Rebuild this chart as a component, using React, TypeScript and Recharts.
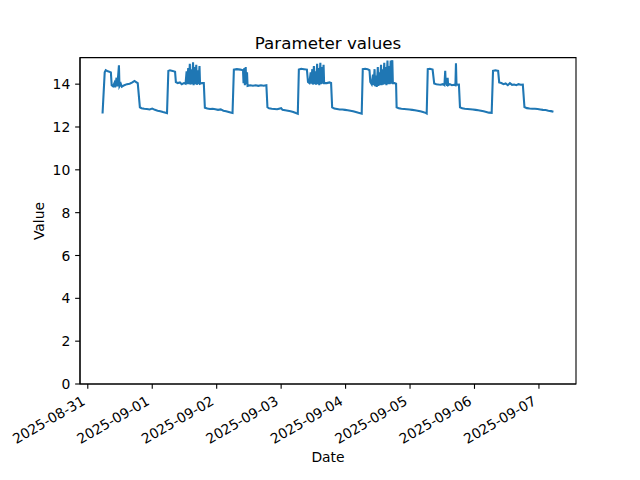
import React from "react";
import { LineChart, Line, XAxis, YAxis, ReferenceArea } from "recharts";

// readings: [hours since 2025-08-31 00:00, value]
const day0: [number, number][] = [
  [5.5, 12.63], [6.3, 14.55], [6.7, 14.65], [7.5, 14.6], [8.6, 14.55], [8.9, 13.95],
  [9.4, 13.9], [9.9, 14.05], [10.2, 13.85], [10.7, 14.3], [11.0, 13.9], [11.6, 14.88],
  [11.8, 13.9], [12.3, 14.02], [12.7, 13.88], [13.6, 13.95], [14.6, 14.0], [15.6, 14.02],
  [16.6, 14.08], [17.4, 14.15], [18.0, 14.1], [18.6, 14.05], [19.4, 12.92], [20.0, 12.88],
  [21.0, 12.85], [22.0, 12.84], [23.0, 12.82], [24.0, 12.86], [25.0, 12.8], [26.0, 12.76],
  [27.0, 12.74], [28.0, 12.7], [29.0, 12.67], [29.5, 12.65],
];
const day1: [number, number][] = [
  [30.0, 14.62], [30.6, 14.65], [31.6, 14.62], [32.5, 14.58], [32.8, 14.1], [33.5, 14.05],
  [34.3, 14.08], [35.0, 14.0], [35.8, 14.05], [36.4, 14.02], [36.8, 14.6], [37.0, 14.0],
  [37.4, 14.75], [37.6, 14.0], [38.0, 14.95], [38.2, 13.98], [38.6, 14.7], [38.8, 14.0],
  [39.2, 15.02], [39.4, 13.95], [39.8, 14.8], [40.0, 14.0], [40.4, 14.9], [40.6, 13.97],
  [41.0, 14.65], [41.2, 14.0], [41.6, 14.85], [41.8, 14.02], [42.5, 14.05], [43.2, 14.05],
  [43.6, 12.9], [44.5, 12.86], [45.5, 12.84], [46.5, 12.85], [47.5, 12.83], [48.5, 12.8],
  [49.5, 12.82], [50.5, 12.76], [51.5, 12.74], [52.5, 12.7], [53.5, 12.66], [53.9, 12.65],
];
const day2: [number, number][] = [
  [54.4, 14.68], [55.5, 14.7], [56.8, 14.68], [57.8, 14.65], [58.0, 14.05], [58.3, 14.75],
  [58.5, 13.95], [58.8, 14.8], [59.0, 14.0], [59.3, 14.55], [59.5, 13.92], [60.5, 13.95],
  [61.5, 13.93], [62.5, 13.95], [63.5, 13.92], [64.5, 13.95], [65.5, 13.93], [66.5, 13.95],
  [66.9, 12.92], [67.5, 12.87], [68.5, 12.85], [69.5, 12.84], [70.5, 12.83], [72.0, 12.88],
  [72.5, 12.8], [73.5, 12.78], [74.5, 12.76], [75.5, 12.74], [76.5, 12.7], [77.5, 12.65],
  [78.2, 12.62],
];
const day3: [number, number][] = [
  [78.6, 14.68], [79.5, 14.72], [80.5, 14.7], [81.6, 14.68], [82.0, 14.1], [82.5, 14.05],
  [83.0, 14.55], [83.2, 14.02], [83.6, 14.7], [83.8, 13.98], [84.2, 14.85], [84.4, 14.0],
  [84.8, 14.6], [85.0, 13.98], [85.4, 14.95], [85.6, 14.0], [86.0, 14.75], [86.2, 13.95],
  [86.6, 15.0], [86.8, 14.0], [87.2, 14.8], [87.4, 14.02], [87.8, 14.9], [88.0, 14.05],
  [89.0, 14.05], [90.0, 14.08], [90.6, 14.05], [91.0, 12.92], [91.8, 12.86], [92.8, 12.84],
  [93.8, 12.82], [94.8, 12.82], [95.8, 12.8], [96.8, 12.78], [97.8, 12.76], [98.8, 12.73],
  [99.8, 12.7], [100.8, 12.66], [102.0, 12.62],
];
const day4: [number, number][] = [
  [102.4, 14.7], [103.3, 14.72], [104.2, 14.7], [104.9, 14.65], [105.2, 14.1], [105.7, 14.0],
  [106.2, 14.45], [106.4, 13.95], [106.8, 14.7], [107.0, 13.9], [107.4, 14.4], [107.6, 13.87],
  [108.0, 14.8], [108.2, 13.92], [108.6, 14.55], [108.8, 13.95], [109.2, 14.9], [109.4, 13.95],
  [109.8, 14.7], [110.0, 13.98], [110.4, 15.0], [110.6, 14.0], [111.0, 14.8], [111.2, 13.95],
  [111.6, 15.1], [111.8, 14.0], [112.2, 14.85], [112.4, 14.0], [112.8, 15.1], [113.0, 14.02],
  [113.4, 15.12], [113.6, 14.05], [114.2, 14.05], [114.8, 14.02], [115.0, 12.92], [115.8, 12.87],
  [116.8, 12.85], [117.8, 12.84], [118.8, 12.83], [119.8, 12.82], [120.8, 12.8], [121.8, 12.78],
  [122.8, 12.76], [123.8, 12.73], [124.8, 12.7], [125.8, 12.66], [126.2, 12.63],
];
const day5: [number, number][] = [
  [126.6, 14.7], [127.4, 14.72], [128.4, 14.68], [129.0, 14.03], [129.8, 14.0], [130.6, 13.98],
  [131.4, 13.97], [132.2, 14.0], [132.8, 13.95], [133.1, 14.62], [133.3, 13.98], [133.6, 14.2],
  [133.8, 13.92], [134.0, 14.3], [134.2, 13.95], [134.8, 14.0], [135.6, 13.95], [136.4, 13.97],
  [136.9, 13.95], [137.1, 14.98], [137.3, 13.97], [138.2, 13.98], [138.6, 12.92], [139.4, 12.87],
  [140.4, 12.85], [141.4, 12.84], [142.4, 12.83], [143.4, 12.82], [144.4, 12.8], [145.4, 12.78],
  [146.4, 12.76], [147.4, 12.73], [148.4, 12.7], [149.4, 12.67], [150.4, 12.66],
];
const day6: [number, number][] = [
  [150.9, 14.62], [151.8, 14.65], [152.8, 14.62], [153.2, 14.08], [154.0, 14.05], [154.8, 14.0],
  [155.6, 14.03], [156.4, 13.95], [157.2, 14.05], [158.0, 13.97], [158.8, 13.98], [159.6, 13.95],
  [160.4, 14.0], [161.2, 13.97], [162.0, 13.98], [162.6, 12.93], [163.5, 12.88], [164.5, 12.86],
  [165.5, 12.85], [166.5, 12.85], [167.5, 12.84], [168.5, 12.82], [169.5, 12.8], [170.5, 12.79],
  [171.5, 12.76], [172.5, 12.74], [173.4, 12.71],
];

const tickHours = [0, 24, 48, 72, 96, 120, 144, 168];
const tickLabels = [
  "2025-08-31", "2025-09-01", "2025-09-02", "2025-09-03",
  "2025-09-04", "2025-09-05", "2025-09-06", "2025-09-07",
];
const yTicks = [0, 2, 4, 6, 8, 10, 12, 14];

const allReadings = [...day0, ...day1, ...day2, ...day3, ...day4, ...day5, ...day6];
const data = allReadings.map(([t, v]) => ({ t, v }));

const FONT = "DejaVu Sans, sans-serif";
const TICK_PX = 4.86;

const XTick = (props: any) => {
  const { x, y, payload } = props;
  const idx = tickHours.indexOf(payload.value);
  const label = idx >= 0 ? tickLabels[idx] : "";
  const px = x - 7;
  const py = y + 1;
  return (
    <text
      x={px}
      y={py}
      transform={`rotate(-30, ${px}, ${py})`}
      textAnchor="end"
      dy="0.76em"
      fontSize={13.9}
      fontFamily={FONT}
      fill="#000"
    >
      {label}
    </text>
  );
};

const YTick = (props: any) => {
  const { x, y, payload } = props;
  return (
    <text x={x} y={y} dy="0.36em" textAnchor="end" fontSize={13.9} fontFamily={FONT} fill="#000">
      {payload.value}
    </text>
  );
};

const xDomain: [number, number] = [-2.9, 181.8];
const yDomain: [number, number] = [0, 15.24];

export default function App() {
  return (
    <div style={{ position: "absolute", left: 0, top: 0, width: 640, height: 480, background: "#fff" }}>
      <LineChart
        width={640}
        height={480}
        data={data}
        margin={{ top: 57.6, right: 64, bottom: 36, left: 20 }}
      >
        <XAxis
          dataKey="t"
          type="number"
          domain={xDomain}
          ticks={tickHours}
          interval={0}
          allowDataOverflow
          height={60}
          tickSize={TICK_PX}
          tickMargin={TICK_PX}
          tick={<XTick />}
          stroke="#000"
          axisLine={{ stroke: "#000", strokeWidth: 1.1 }}
          tickLine={{ stroke: "#000", strokeWidth: 1.1 }}
        />
        <YAxis
          type="number"
          domain={yDomain}
          ticks={yTicks}
          interval={0}
          allowDataOverflow
          width={60}
          tickSize={TICK_PX}
          tickMargin={TICK_PX}
          tick={<YTick />}
          axisLine={{ stroke: "#000", strokeWidth: 1.1 }}
          tickLine={{ stroke: "#000", strokeWidth: 1.1 }}
        />
        <ReferenceArea
          x1={xDomain[0]}
          x2={xDomain[1]}
          y1={yDomain[0]}
          y2={yDomain[1]}
          fill="none"
          fillOpacity={0}
          stroke="#000"
          strokeWidth={1.1}
          strokeOpacity={1}
          ifOverflow="visible"
        />
        <Line
          type="linear"
          dataKey="v"
          stroke="#1f77b4"
          strokeWidth={2.08}
          dot={false}
          isAnimationActive={false}
        />
        <text x={328} y={49} textAnchor="middle" fontSize={16.7} fontFamily={FONT} fill="#000">
          Parameter values
        </text>
        <text x={328} y={462} textAnchor="middle" fontSize={13.9} fontFamily={FONT} fill="#000">
          Date
        </text>
        <text
          x={44}
          y={221}
          transform="rotate(-90, 44, 221)"
          textAnchor="middle"
          fontSize={13.9}
          fontFamily={FONT}
          fill="#000"
        >
          Value
        </text>
      </LineChart>
    </div>
  );
}
